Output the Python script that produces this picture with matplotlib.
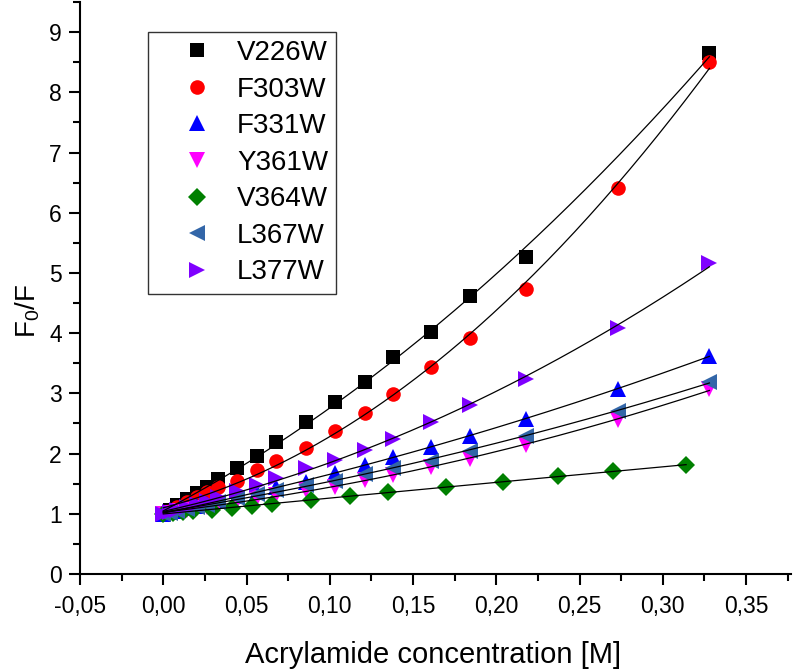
import numpy as np
import matplotlib
matplotlib.use("Agg")
import matplotlib.pyplot as plt
from matplotlib.ticker import MultipleLocator, FuncFormatter

plt.rcParams['font.family'] = ['Liberation Sans', 'DejaVu Sans']
plt.rcParams['mathtext.fontset'] = 'custom'
plt.rcParams['mathtext.rm'] = 'Liberation Sans'
plt.rcParams['mathtext.it'] = 'Liberation Sans'

# acrylamide concentration [M]
conc = [0.0, 0.004, 0.008, 0.014, 0.020, 0.026, 0.033, 0.044, 0.056, 0.068,
        0.086, 0.103, 0.121, 0.138, 0.161, 0.184, 0.218, 0.273, 0.328]
conc_v226 = [0.0, 0.004, 0.008, 0.014, 0.020, 0.026, 0.033, 0.044, 0.056, 0.068,
             0.086, 0.103, 0.121, 0.138, 0.161, 0.184, 0.218, 0.328]
conc_v364 = [0.0, 0.006, 0.012, 0.018, 0.029, 0.041, 0.053, 0.065, 0.089, 0.112,
             0.135, 0.170, 0.204, 0.237, 0.270, 0.314]

v226w = [1.0, 1.07, 1.15, 1.25, 1.35, 1.45, 1.57, 1.76, 1.96, 2.19,
         2.52, 2.85, 3.19, 3.60, 4.02, 4.62, 5.26, 8.65]
f303w = [1.0, 1.05, 1.11, 1.20, 1.28, 1.36, 1.44, 1.55, 1.72, 1.87,
         2.10, 2.37, 2.67, 2.99, 3.44, 3.92, 4.73, 6.41, 8.51]
f331w = [1.0, 1.03, 1.05, 1.09, 1.13, 1.17, 1.22, 1.29, 1.37, 1.45,
         1.53, 1.67, 1.81, 1.95, 2.11, 2.30, 2.57, 3.08, 3.62]
y361w = [1.0, 1.02, 1.04, 1.06, 1.09, 1.12, 1.16, 1.21, 1.26, 1.31,
         1.40, 1.45, 1.56, 1.64, 1.77, 1.91, 2.14, 2.55, 3.08]
v364w = [1.0, 1.02, 1.03, 1.05, 1.07, 1.10, 1.13, 1.16, 1.23, 1.29,
         1.37, 1.44, 1.53, 1.62, 1.71, 1.81]
l367w = [1.0, 1.02, 1.05, 1.08, 1.12, 1.15, 1.20, 1.26, 1.33, 1.40,
         1.47, 1.54, 1.66, 1.76, 1.88, 2.04, 2.30, 2.71, 3.19]
l377w = [1.0, 1.03, 1.07, 1.12, 1.17, 1.22, 1.28, 1.38, 1.48, 1.59,
         1.76, 1.89, 2.06, 2.25, 2.52, 2.80, 3.24, 4.09, 5.16]

series = [
    ("V226W", conc_v226, v226w, "s", "black", 9.5),
    ("F303W", conc, f303w, "o", "red", 10.5),
    ("F331W", conc, f331w, "^", "blue", 11),
    ("Y361W", conc, y361w, "v", "magenta", 11),
    ("V364W", conc_v364, v364w, "D", "green", 9),
    ("L367W", conc, l367w, "<", "#3366a8", 11),
    ("L377W", conc, l377w, ">", "#7f00ff", 11),
]

fig = plt.figure(figsize=(7.93, 6.69), dpi=100)
ax = fig.add_axes([0.1009, 0.142, 0.8966, 0.855])

for name, x, y, mk, col, ms in series:
    ax.plot(x, y, linestyle="none", marker=mk, color=col, markersize=ms,
            markeredgewidth=0, label=name, zorder=3)
    # quadratic fit curve drawn through each data set
    coef = np.polyfit(x, y, 2)
    xs = np.linspace(0, max(x), 200)
    ax.plot(xs, np.polyval(coef, xs), color="black", lw=0.9, zorder=4)

ax.set_xlim(-0.05, 0.377)
ax.set_ylim(0, 9.5)
ax.xaxis.set_major_locator(MultipleLocator(0.05))
ax.xaxis.set_minor_locator(MultipleLocator(0.025))
ax.yaxis.set_major_locator(MultipleLocator(1))
ax.yaxis.set_minor_locator(MultipleLocator(0.5))
ax.xaxis.set_major_formatter(FuncFormatter(lambda v, p: ("%.2f" % v).replace(".", ",").replace("-0,00", "0,00")))
ax.yaxis.set_major_formatter(FuncFormatter(lambda v, p: "%d" % round(v)))

for s in ["top", "right"]:
    ax.spines[s].set_visible(False)
for s in ["left", "bottom"]:
    ax.spines[s].set_linewidth(1.5)

ax.tick_params(which="major", direction="out", length=8, width=1.5, labelsize=16.5)
ax.tick_params(which="minor", direction="out", length=5, width=1.5)
ax.tick_params(axis="x", pad=7)
ax.tick_params(axis="y", pad=5)

ax.set_xlabel("Acrylamide concentration [M]", fontsize=21, labelpad=17)
ax.xaxis.label.set_x(0.497)
ax.set_ylabel(r"$\mathregular{F_0/F}$", fontsize=20, labelpad=5)
ax.yaxis.label.set_y(0.46)

leg = ax.legend(loc="upper left", bbox_to_anchor=(0.0956, 0.948), borderaxespad=0,
                fontsize=20, handlelength=2.9, handletextpad=0.0, borderpad=0.3,
                labelspacing=0.38, fancybox=False, framealpha=1)
leg.get_frame().set_edgecolor("#333333")
leg.get_frame().set_linewidth(1.0)

fig.savefig("out.png", dpi=100)
